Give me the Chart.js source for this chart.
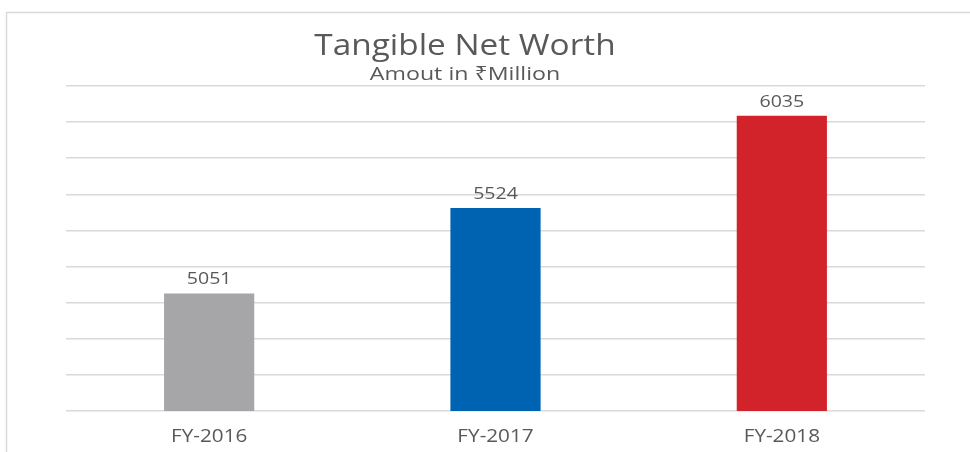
<!DOCTYPE html>
<html>
<head>
<meta charset="utf-8">
<script src="https://cdn.jsdelivr.net/npm/chart.js@4.4.0/dist/chart.umd.min.js"></script>
<style>
  html, body { margin: 0; padding: 0; background: #ffffff; }
  #wrap { width: 970px; height: 452px; position: relative; }
</style>
</head>
<body>
<div id="wrap"><canvas id="chart"></canvas></div>
<script>
// Datos del grafico
const categories = ['FY-2016', 'FY-2017', 'FY-2018'];
const netWorth = [5051, 5524, 6035];
const barColors = ['#a6a6a9', '#0063b1', '#d2232a'];
const chartTitle = 'Tangible Net Worth';
const chartSubtitle = 'Amout in \u20B9Million';

// El texto original se ve estirado en horizontal
const textColor = '#595959';
const fontFamily = '"Open Sans", "Noto Sans", sans-serif';

function stretchedText(ctx, text, x, y, size, sx) {
    ctx.save();
    ctx.font = size + 'px ' + fontFamily;
    ctx.fillStyle = textColor;
    ctx.textAlign = 'center';
    ctx.textBaseline = 'alphabetic';
    ctx.translate(x, y);
    ctx.scale(sx || 1.15, 1);
    ctx.fillText(text, 0, 0);
    ctx.restore();
}

const textPlugin = {
    id: 'textPlugin',
    beforeDraw(chart) {
        const ctx = chart.ctx;
        // marco superior e izquierdo
        ctx.save();
        ctx.strokeStyle = '#d9d9d9';
        ctx.lineWidth = 1.5;
        ctx.beginPath();
        ctx.moveTo(6.5, 452);
        ctx.lineTo(6.5, 12.5);
        ctx.lineTo(970, 12.5);
        ctx.stroke();
        ctx.restore();
    },
    afterDraw(chart) {
        const ctx = chart.ctx;
        const xScale = chart.scales.x;
        stretchedText(ctx, chartTitle, 465, 55, 29);
        stretchedText(ctx, chartSubtitle, 465, 80, 19, 1.22);

        // etiquetas del eje x
        categories.forEach((c, i) => {
            stretchedText(ctx, c, xScale.getPixelForTick(i), 442, 18);
        });

        // valores sobre las barras
        const meta = chart.getDatasetMeta(0);
        meta.data.forEach((bar, i) => {
            stretchedText(ctx, String(netWorth[i]), bar.x, bar.y - 9, 17);
        });
    }
};

new Chart(document.getElementById('chart'), {
    type: 'bar',
    data: {
        labels: categories,
        datasets: [{
            data: netWorth,
            backgroundColor: barColors,
            barPercentage: 0.315,
            categoryPercentage: 1.0
        }]
    },
    options: {
        responsive: true,
        maintainAspectRatio: false,
        animation: false,
        layout: { padding: { left: 66, right: 45, top: 86, bottom: 33 } },
        plugins: {
            legend: { display: false },
            tooltip: { enabled: false }
        },
        scales: {
            x: {
                grid: { display: false },
                border: { display: false },
                ticks: { display: false }
            },
            y: {
                min: 4400,
                max: 6200,
                ticks: { display: false, stepSize: 200 },
                border: { display: false },
                grid: { color: '#d9d9d9', lineWidth: 1.5, drawTicks: false }
            }
        }
    },
    plugins: [textPlugin]
});
</script>
</body>
</html>
